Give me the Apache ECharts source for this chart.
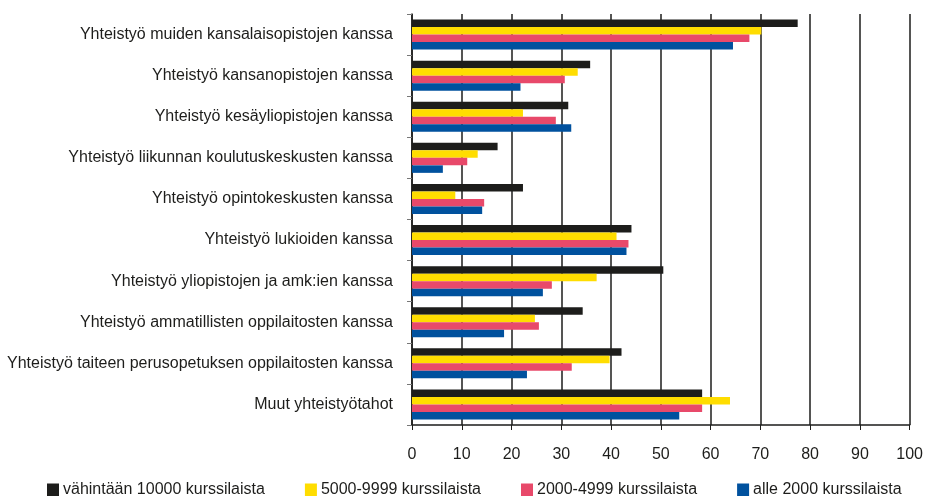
<!DOCTYPE html>
<html><head><meta charset="utf-8">
<script src="https://cdn.jsdelivr.net/npm/echarts@6/dist/echarts.min.js"></script>
<style>html,body{margin:0;padding:0;background:#fff}#c{width:926px;height:496px}</style>
</head><body><div id="c"></div>
<script>
const categories = [
  "Yhteistyö muiden kansalaisopistojen kanssa",
  "Yhteistyö kansanopistojen kanssa",
  "Yhteistyö kesäyliopistojen kanssa",
  "Yhteistyö liikunnan koulutuskeskusten kanssa",
  "Yhteistyö opintokeskusten kanssa",
  "Yhteistyö lukioiden kanssa",
  "Yhteistyö yliopistojen ja amk:ien kanssa",
  "Yhteistyö ammatillisten oppilaitosten kanssa",
  "Yhteistyö taiteen perusopetuksen oppilaitosten kanssa",
  "Muut yhteistyötahot"
];
const seriesNames = ["vähintään 10000 kurssilaista", "5000-9999 kurssilaista", "2000-4999 kurssilaista", "alle 2000 kurssilaista"];
const s10000 = [77.5, 35.8, 31.4, 17.2, 22.3, 44.1, 50.5, 34.3, 42.1, 58.3];
const s5000  = [70.2, 33.3, 22.3, 13.2, 8.7, 41.1, 37.1, 24.7, 39.7, 63.9];
const s2000  = [67.8, 30.7, 28.9, 11.1, 14.5, 43.5, 28.1, 25.5, 32.1, 58.3];
const sAlle  = [64.5, 21.8, 32.0, 6.2, 14.1, 43.1, 26.3, 18.5, 23.1, 53.7];
const xTicks = [0,10,20,30,40,50,60,70,80,90,100];

const colors = ["#1d1d1b", "#ffdd00", "#e8496a", "#00519e"];
const dataSets = [s10000, s5000, s2000, sAlle];
const font = "Liberation Sans, Arial, sans-serif";
const chart = echarts.init(document.getElementById('c'), null, {renderer:'canvas'});
chart.setOption({
  animation: false,
  textStyle: {fontFamily: font},
  grid: {left: 412, right: 14, top: 14, bottom: 71, containLabel: false},
  legend: {
    top: 482, left: 47, padding: 0, itemWidth: 12, itemHeight: 13, itemGap: 40,
    icon: 'rect',
    textStyle: {fontFamily: font, fontSize: 16, color: '#1d1d1b', padding: [0,0,0,-1]},
    data: seriesNames
  },
  xAxis: {
    type: 'value', min: xTicks[0], max: xTicks[xTicks.length-1], interval: 10,
    axisLine: {show: true, lineStyle: {color: '#1d1d1b', width: 1.5}},
    axisTick: {show: true, length: 5, lineStyle: {color: '#1d1d1b'}},
    axisLabel: {fontFamily: font, fontSize: 16, color: '#1d1d1b', margin: 22},
    splitLine: {show: true, lineStyle: {color: '#1d1d1b', width: 1.5}}
  },
  yAxis: {
    type: 'category', data: categories, inverse: true,
    axisLine: {show: true, lineStyle: {color: '#1d1d1b', width: 1.5}},
    axisTick: {show: true, length: 5, lineStyle: {color: '#777'}},
    axisLabel: {fontFamily: font, fontSize: 16, color: '#1d1d1b', margin: 19}
  },
  series: dataSets.map((d, i) => ({
    name: seriesNames[i], type: 'bar', data: d,
    barGap: 0, barCategoryGap: '27%',
    itemStyle: {color: colors[i]}
  }))
});
</script></body></html>
